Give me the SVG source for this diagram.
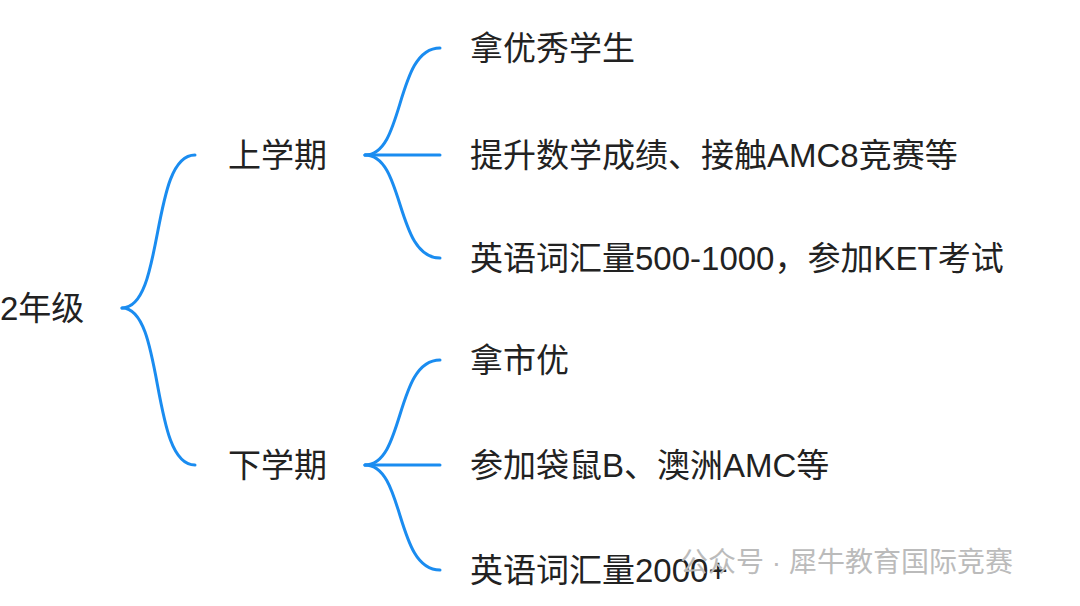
<svg xmlns="http://www.w3.org/2000/svg" width="1080" height="606" viewBox="0 0 1080 606">
<style>
text{font-family:"Liberation Sans","Noto Sans CJK SC",sans-serif;font-size:33px;fill:#222;dominant-baseline:central}
.c{fill:none;stroke:#1a8cf0;stroke-width:3;stroke-linecap:round}
.w{fill:#bbb;font-size:28px}
</style>
<rect width="1080" height="606" fill="#fff"/>
<g id="connectors">
<path class="c" d="M122,308 C165,308 150,155 195,155"/>
<path class="c" d="M122,308 C165,308 150,465 195,465"/>
<path class="c" d="M365,155 C405,155 395,48 440,48"/>
<path class="c" d="M365,155 L440,155"/>
<path class="c" d="M365,155 C405,155 395,258 440,258"/>
<path class="c" d="M365,465 C405,465 395,360 440,360"/>
<path class="c" d="M365,465 L440,465"/>
<path class="c" d="M365,465 C405,465 395,570 440,570"/>
</g>
<g id="root"><text x="0" y="308">2年级</text></g>
<g id="n1"><text x="228" y="155">上学期</text></g>
<g id="n2"><text x="228" y="465">下学期</text></g>
<g id="l1"><text x="470" y="48">拿优秀学生</text></g>
<g id="l2"><text x="470" y="155">提升数学成绩、接触AMC8竞赛等</text></g>
<g id="l3"><text x="470" y="258">英语词汇量500-1000，参加KET考试</text></g>
<g id="l4"><text x="470" y="360">拿市优</text></g>
<g id="l5"><text x="470" y="465">参加袋鼠B、澳洲AMC等</text></g>
<g id="l6"><text x="470" y="570">英语词汇量2000+</text></g>
<text class="w" x="680" y="562">公众号 · 犀牛教育国际竞赛</text>
</svg>
